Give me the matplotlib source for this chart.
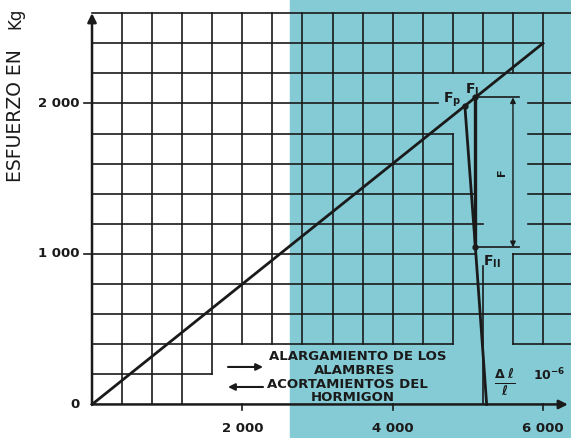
import matplotlib
matplotlib.use("Agg")
import matplotlib.pyplot as plt

# values (x: strain 10^-6, y: load in kg)
line_x = [0, 6000]
line_y = [0, 2400]
fp = [4960, 1984]
f1 = [5100, 2040]
f2 = [5100, 1045]
drop_end = [5250, 0]

x_ticks = [2000, 4000, 6000]
x_tick_labels = ["2 000", "4 000", "6 000"]
y_ticks = [0, 1000, 2000]
y_tick_labels = ["0", "1 000", "2 000"]

legend_lines = ["ALARGAMIENTO DE LOS", "ALAMBRES", "ACORTAMIENTOS DEL", "HORMIGON"]

EDGE = 6400
# grid pieces as drawn (gaps are left where the notes are)
h_grid = [
    (2600, [(0, EDGE)]),
    (2400, [(0, 6000)]),
    (2200, [(0, EDGE)]),
    (2000, [(0, 4600), (5800, EDGE)]),
    (1800, [(0, 4800), (5800, EDGE)]),
    (1600, [(0, 4800), (5800, EDGE)]),
    (1400, [(0, 5100), (5800, EDGE)]),
    (1200, [(0, 5200), (5800, EDGE)]),
    (1000, [(0, 5100), (5600, EDGE)]),
    (800, [(0, EDGE)]),
    (600, [(0, EDGE)]),
    (400, [(0, 4800), (5600, EDGE)]),
    (200, [(0, 1600)]),
]
v_grid = [
    (400, [(0, 2600)]),
    (800, [(0, 2600)]),
    (1200, [(0, 2600)]),
    (1600, [(200, 2600)]),
    (2000, [(400, 2600)]),
    (2400, [(400, 2600)]),
    (2800, [(400, 2600)]),
    (3200, [(400, 2600)]),
    (3600, [(400, 2600)]),
    (4000, [(400, 2600)]),
    (4400, [(400, 2600)]),
    (4800, [(400, 1800), (2200, 2600)]),
    (5200, [(0, 920), (2200, 2600)]),
    (5600, [(400, 1000), (2200, 2600)]),
    (6000, [(400, 2600)]),
]

BLUE = "#84cbd5"
INK = "#1a1a1a"

fig = plt.figure(figsize=(5.71, 4.39), dpi=100)
ax = fig.add_axes([0, 0, 1, 1])
ax.set_xlim(-1224, 6372)
ax.set_ylim(-223, 2694)
ax.axis("off")

ax.axvspan(2634, 6372, color=BLUE, zorder=0)

# grid
for y, parts in h_grid:
    for a, b in parts:
        ax.plot([a, b], [y, y], color=INK, lw=1.2, zorder=1)
for x, parts in v_grid:
    for a, b in parts:
        ax.plot([x, x], [a, b], color=INK, lw=1.2, zorder=1)

# axes with arrows
ax.annotate("", xy=(0, 2600), xytext=(0, 0),
            arrowprops=dict(arrowstyle="-|>", lw=1.8, color=INK, mutation_scale=13, shrinkA=0, shrinkB=0))
ax.annotate("", xy=(6330, 0), xytext=(0, 0),
            arrowprops=dict(arrowstyle="-|>", lw=1.8, color=INK, mutation_scale=13, shrinkA=0, shrinkB=0))

for x, lab in zip(x_ticks, x_tick_labels):
    ax.plot([x, x], [0, -35], color=INK, lw=1.2)
    ax.text(x, -150, lab, ha="center", va="center", fontsize=9.5, fontweight="bold", color=INK)
for y, lab in zip(y_ticks, y_tick_labels):
    if y > 0:
        ax.plot([-100, 0], [y, y], color=INK, lw=1.2)
    ax.text(-170, y + 8, lab, ha="right", va="center", fontsize=9.5, fontweight="bold", color=INK)

ax.text(-1024, 1924, "ESFUERZO EN", rotation=90, ha="center", va="center", fontsize=13.5, color=INK)
ax.text(-1024, 2575, "Kg", rotation=90, ha="center", va="center", fontsize=12, color=INK)

# load line and the drop
ax.plot(line_x, line_y, color=INK, lw=2, zorder=3)
ax.plot([fp[0], f2[0], drop_end[0]], [fp[1], f2[1], drop_end[1]], color=INK, lw=2, zorder=3)
ax.plot([f1[0], f2[0]], [f1[1], f2[1]], color=INK, lw=2.4, zorder=3)
ax.plot([fp[0], f1[0], f2[0]], [fp[1], f1[1], f2[1]], "o", color=INK, ms=3.5, zorder=4)

# dimension F
ax.plot([f1[0], 5680], [f1[1], f1[1]], color=INK, lw=1.2)
ax.plot([f2[0], 5680], [f2[1], f2[1]], color=INK, lw=1.2)
ax.annotate("", xy=(5600, f1[1]), xytext=(5600, f2[1]),
            arrowprops=dict(arrowstyle="<|-|>", lw=1, color=INK, mutation_scale=8, shrinkA=0, shrinkB=0))
ax.text(5450, 1548, "F", rotation=90, ha="center", va="center", fontsize=8, fontweight="bold", color=INK)

ax.text(4785, 2030, r"$\mathbf{F_p}$", ha="center", va="center", fontsize=10, color=INK)
ax.text(5051, 2096, r"$\mathbf{F_I}$", ha="center", va="center", fontsize=10, color=INK)
ax.text(5317, 955, r"$\mathbf{F_{II}}$", ha="center", va="center", fontsize=10, color=INK)

# legend notes
ax.annotate("", xy=(2275, 249), xytext=(1809, 249),
            arrowprops=dict(arrowstyle="-|>", lw=1.5, color=INK, mutation_scale=10, shrinkA=0, shrinkB=0))
ax.annotate("", xy=(1809, 116), xytext=(2275, 116),
            arrowprops=dict(arrowstyle="-|>", lw=1.5, color=INK, mutation_scale=10, shrinkA=0, shrinkB=0))
for (x, y), s in zip([(3539, 324), (3499, 231), (3392, 136), (3472, 50)], legend_lines):
    ax.text(x, y, s, ha="center", va="center", fontsize=9.5, fontweight="bold", color=INK)

ax.text(5494, 156, r"$\mathbf{\frac{\Delta\ \ell}{\ell}}$", ha="center", va="center", fontsize=13, color=INK)
ax.text(6080, 203, r"$\mathbf{10^{-6}}$", ha="center", va="center", fontsize=9, color=INK)

fig.savefig("out.png", dpi=100)
